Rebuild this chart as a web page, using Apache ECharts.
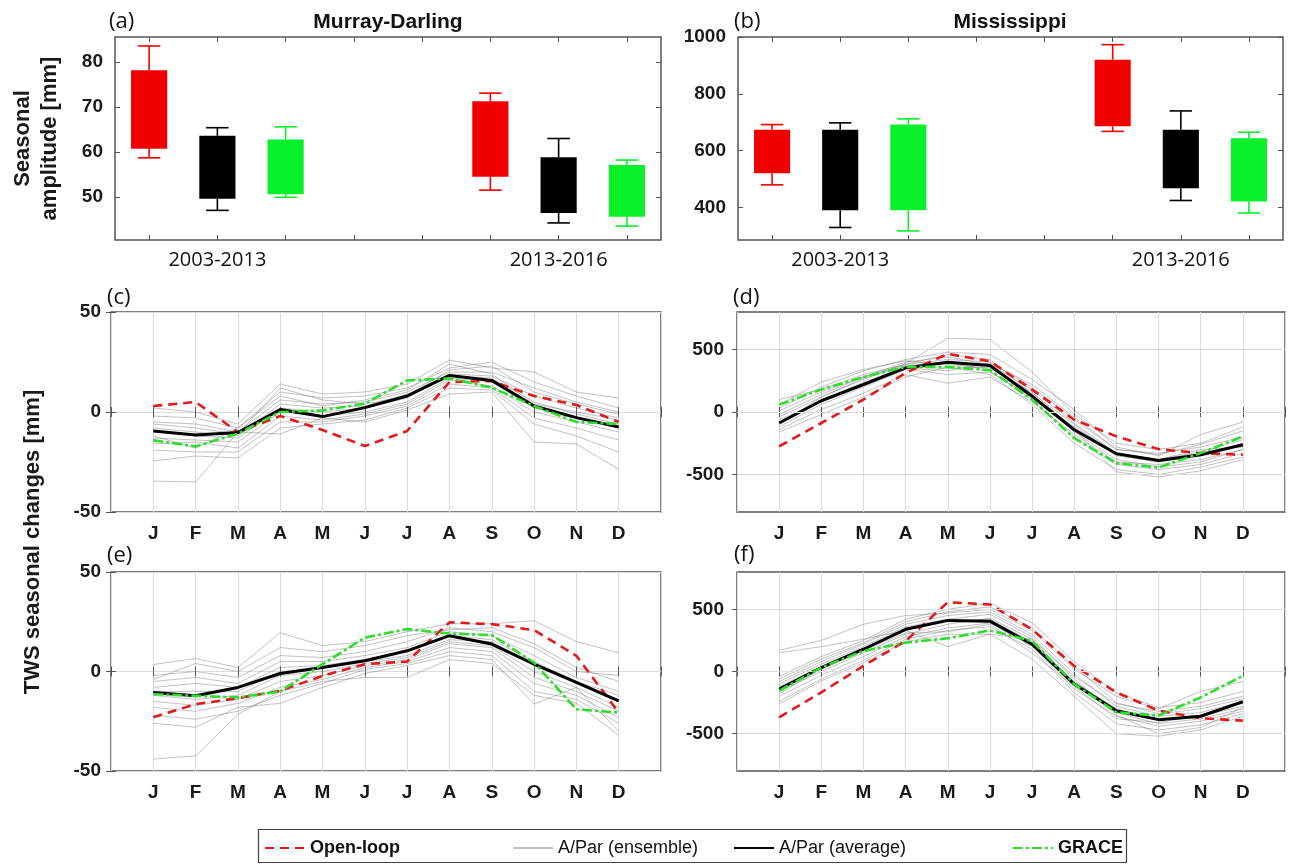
<!DOCTYPE html>
<html><head><meta charset="utf-8">
<script src="https://cdn.jsdelivr.net/npm/echarts@6/dist/echarts.min.js"></script>
<style>html,body{margin:0;padding:0;background:#fff}#c{width:1300px;height:864px}</style>
</head><body><div id="c"></div>
<script>
// ---------- tick labels / categories ----------
const months = ['J','F','M','A','M','J','J','A','S','O','N','D'];
const periods = ['2003-2013','2013-2016'];
const legendNames = ['Open-loop', 'A/Par (ensemble)', 'A/Par (average)', 'GRACE'];

// ---------- (a) Murray-Darling seasonal amplitude boxes: [min, q1, q3, max] per period ----------
const mdBoxOpen  = [[58.7, 60.7, 78.2, 83.6], [51.5, 54.5, 71.3, 73.1]];
const mdBoxAvg   = [[47.0, 49.6, 63.6, 65.4], [44.2, 46.4, 58.8, 63.0]];
const mdBoxGrace = [[49.9, 50.6, 62.8, 65.6], [43.5, 45.6, 57.1, 58.2]];
// ---------- (b) Mississippi ----------
const msBoxOpen  = [[480, 521, 674, 692], [668, 686, 920, 973]];
const msBoxAvg   = [[330, 391, 674, 698], [425, 468, 674, 740]];
const msBoxGrace = [[318, 391, 692, 712], [381, 421, 644, 665]];

// ---------- (c) Murray-Darling 2003-2013 ----------
const cOpen  = [3, 5, -10, -2, -9, -17, -9.5, 15, 15.5, 8, 3.5, -5];
const cAvg   = [-9.5, -11.5, -10.3, 1.2, -2.3, 2.2, 8, 18.3, 15.8, 3, -2.8, -7.5];
const cGrace = [-14.2, -17.2, -10.8, 0, 0.8, 4.2, 15.8, 16.8, 12.2, 3, -5, -6];
const cEns = [
  [2, 0, -6, 14, 9, 10, 14, 26, 22, 20, 10, 7],
  [-2, -3, -8, 10, 7, 8, 12, 22, 25, 15, 8, 2],
  [-5, -6, -10, 6, 4, 5, 10, 20, 20, 12, 5, 0],
  [-8, -10, -12, 4, 2, 3, 9, 19, 18, 8, 2, -3],
  [-9.5, -12, -13, 2, 0, 2, 7, 18, 17, 5, -1, -6],
  [-13, -14, -15, 0, -2, 0, 5, 17, 15, 2, -3, -8],
  [-16, -15, -18, -2, -4, -1, 4, 16, 13, 0, -5, -10],
  [-19, -20, -20, -5, -5, -2, 3, 14, 12, -3, -8, -14],
  [-24.5, -22, -23, -8, -6, -4, 2, 12, 11, -6, -12, -20],
  [-34.5, -35, -10, -11, -3, -5, 1, 9, 10, -15, -16, -28.7],
  [-12, -18, -8, 8, 3, 6, 11, 24, 19, 4, 0, -4],
  [-6, -8, -11, 12, 6, 4, 8, 21, 23, 10, 4, -1]
];

// ---------- (d) Mississippi 2003-2013 ----------
const dOpen  = [-275, -88, 99, 313, 465, 406, 179, -62, -195, -297, -329, -342];
const dAvg   = [-88, 90, 220, 353, 398, 372, 126, -142, -334, -388, -342, -262];
const dGrace = [59, 180, 280, 361, 361, 334, 99, -209, -409, -444, -329, -195];
const dEns = [
  [-40, 120, 260, 390, 590, 580, 320, -20, -250, -300, -250, -120],
  [30, 200, 330, 420, 480, 460, 260, 20, -280, -350, -180, -80],
  [100, 180, 300, 380, 420, 400, 200, -60, -300, -340, -260, -150],
  [-120, 60, 200, 340, 300, 320, 120, -120, -330, -380, -300, -280],
  [-60, 80, 240, 360, 350, 360, 150, -100, -350, -400, -350, -250],
  [-140, 20, 150, 300, 230, 280, 80, -180, -400, -420, -380, -300],
  [-100, 120, 270, 370, 400, 330, 100, -200, -420, -460, -420, -330],
  [-20, 140, 280, 400, 440, 380, 180, -90, -330, -380, -320, -220],
  [-160, -20, 120, 280, 360, 300, 60, -250, -460, -500, -440, -360],
  [60, 240, 340, 410, 380, 350, 160, -140, -480, -520, -470, -380],
  [-80, 100, 220, 350, 330, 390, 220, -40, -300, -330, -280, -200],
  [10, 160, 280, 380, 460, 420, 140, -160, -380, -440, -400, -300]
];

// ---------- (e) Murray-Darling 2013-2016 ----------
const eOpen  = [-23, -16.4, -13.4, -9.7, -2.2, 3.7, 5, 24.7, 23.8, 20.8, 7.9, -20.6];
const eAvg   = [-10.6, -12.2, -8, -1, 2, 5.4, 10.4, 18, 13.8, 3.7, -5.5, -14.8];
const eGrace = [-11.4, -12.2, -13, -10, 3.7, 17, 21.3, 19.1, 18.3, 4.5, -19, -20.6];
const eEns = [
  [3.5, 6.5, 2, 19.5, 13, 15, 20, 24, 24, 25.5, 15, 9.5],
  [-2, 0, -3, 8, 7, 10, 15, 22, 20, 12, 0, -2],
  [-5, -3, -6, 5, 5, 8, 12, 20, 18, 8, -3, -10],
  [-8, -6, -8, 2, 3, 6, 10, 18, 16, 5, -5, -12],
  [-10, -10, -10, 0, 2, 5, 8, 16, 15, 3, -6, -15],
  [-12, -14, -12, -2, 0, 4, 7, 15, 13, 0, -8, -18],
  [-15, -17, -14, -5, -2, 3, 6, 14, 12, -3, -10, -20],
  [-18, -20, -16, -8, -4, 2, 5, 12, 10, -6, -12, -23],
  [-22, -24, -20, -12, -6, 1, 4, 10, 8, -10, -14, -26],
  [-26, -28, -18, -16, -8, -1, 3, 8, 6, -16.4, -8, -30],
  [-44, -42.4, -21.5, -10, -5, -3, -3, 6, 4, -12, -16, -32],
  [-4, 4, 0, 12, 10, 13, 18, 21, 22, 14, 2, -5]
];

// ---------- (f) Mississippi 2013-2016 ----------
const fOpen  = [-368, -168, 45, 245, 557, 539, 339, 45, -168, -315, -376, -395];
const fAvg   = [-141, 32, 179, 339, 411, 405, 219, -101, -315, -387, -360, -243];
const fGrace = [-155, 32, 165, 232, 267, 331, 245, -101, -328, -355, -208, -35];
const fEns = [
  [150, 200, 260, 330, 200, 300, 260, -40, -260, -320, -280, -200],
  [170, 250, 380, 450, 470, 500, 330, 20, -200, -300, -160, -80],
  [-40, 120, 250, 420, 500, 550, 390, 80, -170, -290, -250, -160],
  [-80, 80, 220, 380, 450, 480, 300, -20, -280, -360, -330, -240],
  [-120, 40, 180, 330, 400, 420, 240, -80, -300, -390, -360, -280],
  [-160, 0, 150, 300, 380, 430, 260, -110, -330, -420, -380, -300],
  [-200, -30, 120, 280, 350, 390, 200, -140, -360, -440, -400, -320],
  [-240, -60, 90, 260, 330, 360, 180, -170, -420, -470, -430, -340],
  [-260, -75, 70, 240, 300, 300, 100, -200, -500, -520, -470, -360],
  [-100, 60, 200, 360, 420, 460, 280, -60, -350, -500, -450, -290],
  [-180, 20, 170, 310, 320, 380, 150, -120, -380, -410, -350, -250],
  [-60, 100, 230, 400, 480, 520, 350, 40, -250, -340, -300, -220]
];

// ---------- styling ----------
const AX = '#555';
const GRIDLINE = '#dcdcdc';
const RED_BOX = '#f20000', BLACK = '#000000', GREEN_BOX = '#08f02a';
const RED_LINE = '#e3191c', GREEN_LINE = '#2fdc2f';
const SANS = '"Liberation Sans", Arial, sans-serif';
const tickFont = {fontFamily: SANS, fontWeight: 'bold', fontSize: 19, color: '#1a1a1a'};
const plain = v => String(v);

const grids = [
  {left: 115, top: 37, width: 546, height: 203},
  {left: 738, top: 37, width: 545, height: 203},
  {left: 111, top: 312, width: 550, height: 200},
  {left: 737, top: 312, width: 548, height: 200},
  {left: 111, top: 572, width: 550, height: 199},
  {left: 737, top: 572, width: 548, height: 199}
].map(g => Object.assign({show: true, borderColor: AX, borderWidth: 1.5, backgroundColor: 'transparent', containLabel: false}, g));

const xAxes = [], yAxes = [], series = [];
const slots = [1, 2, 3, 4, 5, 6, 7, 8];

function boxAxes(gi, yMin, yMax, yTicks, yName) {
  const tick = {inside: true, length: 5, lineStyle: {color: AX}};
  xAxes.push({gridIndex: gi, type: 'value', min: 0.5, max: 8.5, position: 'bottom',
    axisLine: {show: false}, splitLine: {show: false},
    axisTick: Object.assign({customValues: slots}, tick),
    axisLabel: {customValues: [2, 7], formatter: v => periods[Math.round((v - 2) / 5)],
      fontFamily: '"Open Sans", sans-serif', fontSize: 20, color: '#111', margin: 10}});
  xAxes.push({gridIndex: gi, type: 'value', min: 0.5, max: 8.5, position: 'top',
    axisLine: {show: false}, splitLine: {show: false}, axisLabel: {show: false},
    axisTick: Object.assign({customValues: slots}, tick)});
  const y = {gridIndex: gi, type: 'value', min: yMin, max: yMax, position: 'left',
    axisLine: {show: false}, splitLine: {show: false},
    axisTick: Object.assign({customValues: yTicks}, tick),
    axisLabel: Object.assign({customValues: yTicks, margin: 12, formatter: plain}, tickFont)};
  if (yName) Object.assign(y, {name: yName, nameLocation: 'middle', nameGap: 52, nameRotate: 90,
    nameTextStyle: {fontFamily: SANS, fontWeight: 'bold', fontSize: 22, lineHeight: 27, color: '#1a1a1a'}});
  yAxes.push(y);
  yAxes.push({gridIndex: gi, type: 'value', min: yMin, max: yMax, position: 'right',
    axisLine: {show: false}, splitLine: {show: false}, axisLabel: {show: false},
    axisTick: Object.assign({customValues: yTicks}, tick)});
}

function boxSeries(gi, name, color, stats, slot) {
  series.push({
    type: 'custom', name: name, xAxisIndex: 2 * gi, yAxisIndex: 2 * gi, silent: true,
    data: stats.map((s, p) => [slot + 5 * p, s[0], s[1], s[2], s[3]]),
    renderItem: (params, api) => {
      const x = api.value(0);
      const lo = api.coord([x, api.value(1)]);
      const q1 = api.coord([x, api.value(2)]);
      const q3 = api.coord([x, api.value(3)]);
      const hi = api.coord([x, api.value(4)]);
      const bw = api.size([0.53, 0])[0];
      const cw = api.size([0.33, 0])[0];
      const ls = {stroke: color, lineWidth: 1.6};
      return {type: 'group', children: [
        {type: 'line', shape: {x1: hi[0], y1: hi[1], x2: q3[0], y2: q3[1]}, style: ls},
        {type: 'line', shape: {x1: hi[0] - cw / 2, y1: hi[1], x2: hi[0] + cw / 2, y2: hi[1]}, style: ls},
        {type: 'line', shape: {x1: lo[0], y1: lo[1], x2: q1[0], y2: q1[1]}, style: ls},
        {type: 'line', shape: {x1: lo[0] - cw / 2, y1: lo[1], x2: lo[0] + cw / 2, y2: lo[1]}, style: ls},
        {type: 'rect', shape: {x: q3[0] - bw / 2, y: q3[1], width: bw, height: q1[1] - q3[1]}, style: {fill: color}}
      ]};
    }
  });
}

function lineAxes(gi, yMin, yMax, yTicks, useSplit) {
  const tick = {inside: true, length: 5, lineStyle: {color: AX}};
  xAxes.push({gridIndex: gi, type: 'value', min: 0, max: 13, interval: 1, position: 'bottom',
    axisLine: {show: false}, axisTick: tick,
    splitLine: {show: true, lineStyle: {color: GRIDLINE, width: 1}},
    axisLabel: Object.assign({formatter: v => months[v - 1] || '', margin: 12}, tickFont)});
  xAxes.push({gridIndex: gi, type: 'value', min: 0, max: 13, interval: 1, position: 'top',
    axisLine: {show: false}, axisTick: tick, splitLine: {show: false}, axisLabel: {show: false}});
  const yl = {gridIndex: gi, type: 'value', min: yMin, max: yMax, position: 'left', axisLine: {show: false}};
  const yr = {gridIndex: gi, type: 'value', min: yMin, max: yMax, position: 'right', axisLine: {show: false},
    axisLabel: {show: false}, splitLine: {show: false}};
  if (useSplit) {
    Object.assign(yl, {interval: 50, axisTick: tick, splitLine: {show: true, lineStyle: {color: GRIDLINE, width: 1}},
      axisLabel: Object.assign({margin: 10, formatter: plain}, tickFont)});
    Object.assign(yr, {interval: 50, axisTick: tick});
  } else {
    Object.assign(yl, {axisTick: Object.assign({customValues: yTicks}, tick), splitLine: {show: false},
      axisLabel: Object.assign({customValues: yTicks, margin: 13, formatter: plain}, tickFont)});
    Object.assign(yr, {axisTick: Object.assign({customValues: yTicks}, tick)});
  }
  yAxes.push(yl, yr);
}

function linePanel(gi, ens, open, avg, grace, markVals) {
  const pts = arr => arr.map((v, i) => [i + 1, v]);
  ens.forEach((m, k) => {
    const s = {type: 'line', name: legendNames[1], xAxisIndex: 2 * gi, yAxisIndex: 2 * gi,
      data: pts(m), symbol: 'none', silent: true, z: 1,
      lineStyle: {color: 'rgba(110,110,110,0.42)', width: 1}, itemStyle: {color: '#bbb'}};
    if (k === 0 && markVals) s.markLine = {silent: true, symbol: 'none', label: {show: false},
      lineStyle: {color: GRIDLINE, type: 'solid', width: 1}, data: markVals.map(v => ({yAxis: v}))};
    series.push(s);
  });
  series.push({type: 'line', name: legendNames[0], xAxisIndex: 2 * gi, yAxisIndex: 2 * gi, data: pts(open),
    symbol: 'none', z: 3, lineStyle: {color: RED_LINE, width: 2.6, type: [9, 6]}, itemStyle: {color: RED_LINE}});
  series.push({type: 'line', name: legendNames[2], xAxisIndex: 2 * gi, yAxisIndex: 2 * gi, data: pts(avg),
    symbol: 'none', z: 4, lineStyle: {color: BLACK, width: 3}, itemStyle: {color: BLACK}});
  series.push({type: 'line', name: legendNames[3], xAxisIndex: 2 * gi, yAxisIndex: 2 * gi, data: pts(grace),
    symbol: 'none', z: 5, lineStyle: {color: GREEN_LINE, width: 2.6, type: [10, 3, 3, 3]}, itemStyle: {color: GREEN_LINE}});
}

// panels
boxAxes(0, 40.4, 85.6, [50, 60, 70, 80], 'Seasonal\namplitude [mm]');
boxAxes(1, 286, 1000, [400, 600, 800, 1000], null);
lineAxes(2, -50, 50, null, true);
lineAxes(3, -800, 800, [-500, 0, 500], false);
lineAxes(4, -50, 50, null, true);
lineAxes(5, -800, 800, [-500, 0, 500], false);

boxSeries(0, 'Open-loop box', RED_BOX, mdBoxOpen, 1);
boxSeries(0, 'A/Par box', BLACK, mdBoxAvg, 2);
boxSeries(0, 'GRACE box', GREEN_BOX, mdBoxGrace, 3);
boxSeries(1, 'Open-loop box', RED_BOX, msBoxOpen, 1);
boxSeries(1, 'A/Par box', BLACK, msBoxAvg, 2);
boxSeries(1, 'GRACE box', GREEN_BOX, msBoxGrace, 3);

linePanel(2, cEns, cOpen, cAvg, cGrace, null);
linePanel(3, dEns, dOpen, dAvg, dGrace, [-500, 0, 500]);
linePanel(4, eEns, eOpen, eAvg, eGrace, null);
linePanel(5, fEns, fOpen, fAvg, fGrace, [-500, 0, 500]);

// one legend component per entry, so the irregular spacing of the original can be kept
const legendLeft = [264, 512, 733, 1012];
const legendBold = [true, false, false, true];
const legends = legendNames.map((n, i) => ({
  data: [n], left: legendLeft[i], top: 839, padding: 0, selectedMode: false,
  itemWidth: 40, itemHeight: 14, itemGap: 0, itemStyle: {opacity: 0},
  textStyle: {fontFamily: SANS, fontSize: 18, color: '#111', fontWeight: legendBold[i] ? 'bold' : 'normal'}
}));

const txt = (t, x, y, font, align) => ({type: 'text', x: x, y: y, silent: true,
  style: {text: t, font: font, fill: '#111', align: align || 'left', verticalAlign: 'middle'}});
const panelFont = 'normal 22px "Open Sans", sans-serif';
const titleFont = 'bold 21px ' + SANS;

const option = {
  animation: false,
  backgroundColor: '#fff',
  grid: grids,
  xAxis: xAxes,
  yAxis: yAxes,
  series: series,
  legend: legends,
  graphic: [
    {type: 'rect', silent: true, shape: {x: 258.5, y: 829.5, width: 868, height: 33},
      style: {fill: 'none', stroke: '#444', lineWidth: 1.2}},
    txt('(a)', 109, 22, panelFont),
    txt('(b)', 734, 22, panelFont),
    txt('(c)', 107, 298, panelFont),
    txt('(d)', 733, 298, panelFont),
    txt('(e)', 107, 556, panelFont),
    txt('(f)', 734, 555, panelFont),
    txt('Murray-Darling', 388, 22, titleFont, 'center'),
    txt('Mississippi', 1010, 22, titleFont, 'center'),
    {type: 'text', x: 33, y: 542, rotation: Math.PI / 2, silent: true,
      style: {text: 'TWS seasonal changes [mm]', font: 'bold 22px ' + SANS, fill: '#1a1a1a',
        align: 'center', verticalAlign: 'middle'}}
  ]
};

const chart = echarts.init(document.getElementById('c'), null, {renderer: 'canvas'});
chart.setOption(option);
</script>
</body></html>
